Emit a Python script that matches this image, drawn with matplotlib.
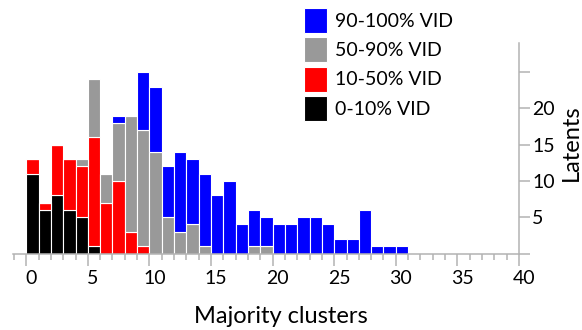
import numpy as np
import matplotlib
matplotlib.use("Agg")
import matplotlib.pyplot as plt
import matplotlib.transforms as mtransforms
from matplotlib.ticker import MultipleLocator

plt.rcParams['font.family'] = ['Lato', 'DejaVu Sans']

# Data: number of latents per majority-cluster count, split by VID range
clusters = np.arange(31)
black = [11, 6, 8, 6, 5, 1, 0, 0, 0, 0, 0, 0, 0, 0, 0, 0,
         0, 0, 0, 0, 0, 0, 0, 0, 0, 0, 0, 0, 0, 0, 0]
red = [2, 1, 7, 7, 7, 15, 7, 10, 3, 1, 0, 0, 0, 0, 0, 0,
       0, 0, 0, 0, 0, 0, 0, 0, 0, 0, 0, 0, 0, 0, 0]
gray = [0, 0, 0, 0, 1, 8, 4, 8, 16, 16, 14, 5, 3, 4, 1, 0,
        0, 0, 1, 1, 0, 0, 0, 0, 0, 0, 0, 0, 0, 0, 0]
blue = [0, 0, 0, 0, 0, 0, 0, 1, 0, 8, 9, 7, 11, 9, 10, 8,
        10, 4, 5, 4, 4, 4, 5, 5, 4, 2, 2, 6, 1, 1, 1]

series = [(black, '#000000', '0-10% VID'),
          (red, '#ff0000', '10-50% VID'),
          (gray, '#999999', '50-90% VID'),
          (blue, '#0000ff', '90-100% VID')]

W, H = 582, 330
fig = plt.figure(figsize=(W / 100, H / 100), dpi=100)

# axes box in pixels
left, right, bottom, top = 12.7, 519, 253.5, 43
ax = fig.add_axes([left / W, 1 - bottom / H, (right - left) / W, (bottom - top) / H])

base = np.zeros(len(clusters))
handles = []
for vals, col, lab in series:
    b = ax.bar(clusters, vals, width=1, bottom=base, align='edge', color=col,
               edgecolor='white', linewidth=0.8, label=lab)
    handles.append(b)
    base = base + np.array(vals)

ax.set_xlim(-1.1, 40)
ax.set_ylim(0, 29)

spine_col = '#b3b3b3'
for s in ['top', 'left']:
    ax.spines[s].set_visible(False)
ax.spines['bottom'].set_color(spine_col)
ax.spines['right'].set_color(spine_col)
ax.spines['bottom'].set_linewidth(1.1)
ax.spines['right'].set_linewidth(1.1)

ax.xaxis.set_major_locator(MultipleLocator(5))
ax.xaxis.set_minor_locator(MultipleLocator(1))
ax.tick_params(axis='x', which='major', length=8.6, width=1.1, color=spine_col,
               labelsize=14, pad=3)
ax.tick_params(axis='x', which='minor', length=4.3, width=1.1, color=spine_col)

ax.yaxis.tick_right()
ax.set_yticks([0, 5, 10, 15, 20, 25])
ax.set_yticklabels(['', '5', '10', '15', '20', ''])
ax.tick_params(axis='y', which='major', length=8, width=1.1, color=spine_col,
               labelsize=14, pad=1.5)

# tick labels sit a little right of their ticks
offset = mtransforms.ScaledTranslation(0.05, 0, fig.dpi_scale_trans)
for lbl in ax.get_xticklabels():
    lbl.set_transform(lbl.get_transform() + offset)

fig.text(281 / W, 1 - 322.7 / H, 'Majority clusters', ha='center', va='baseline',
         fontsize=17)
fig.text(571 / W, 1 - 143 / H, 'Latents', ha='center', va='center',
         rotation=90, fontsize=17)

fig.legend(handles[::-1], [h.get_label() for h in handles[::-1]],
           loc='upper left', bbox_to_anchor=(304 / W, 1 - 8 / H),
           bbox_transform=fig.transFigure, frameon=False, fontsize=14,
           handlelength=1.19, handleheight=1.6, labelspacing=0.22,
           handletextpad=0.41, borderpad=0, borderaxespad=0)

fig.savefig('out.png', dpi=100)
